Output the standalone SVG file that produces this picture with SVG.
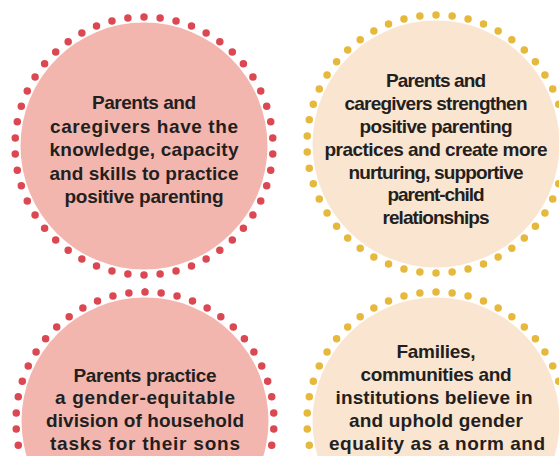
<svg xmlns="http://www.w3.org/2000/svg" width="559" height="456" viewBox="0 0 559 456">
<style>
.bg{fill:#ffffff}
.pink{fill:#F3B6AF}
.peach{fill:#FAE5D1}
.dots{fill:none;stroke-width:7.5;stroke-linecap:round;stroke-dasharray:0 1}
.red{stroke:#DC4852}
.yel{stroke:#E6B83C}
text{font-family:"Liberation Sans",Arial,sans-serif;font-weight:bold;font-size:19px;fill:#231F20;text-anchor:middle}
</style>
<rect class="bg" x="0" y="0" width="559" height="456"/>
<g id="node-knowledge">
<circle class="pink" cx="144" cy="146" r="123.5"/>
<path class="dots red" pathLength="50" d="M144 17 A129 129 0 1 1 144 275 A129 129 0 1 1 144 17"/>
<text x="144" y="109" textLength="104" lengthAdjust="spacing">Parents and</text>
<text x="144" y="132.5" textLength="188" lengthAdjust="spacing">caregivers have the</text>
<text x="144" y="156" textLength="189" lengthAdjust="spacing">knowledge, capacity</text>
<text x="144" y="179.5" textLength="189" lengthAdjust="spacing">and skills to practice</text>
<text x="144" y="203" textLength="159" lengthAdjust="spacing">positive parenting</text>
</g>
<g id="node-practices">
<circle class="peach" cx="436" cy="144" r="123.5"/>
<path class="dots yel" pathLength="50" d="M436 15 A129 129 0 1 1 436 273 A129 129 0 1 1 436 15"/>
<text x="436" y="87" textLength="100" lengthAdjust="spacing">Parents and</text>
<text x="436" y="110" textLength="183" lengthAdjust="spacing">caregivers strengthen</text>
<text x="436" y="133" textLength="153" lengthAdjust="spacing">positive parenting</text>
<text x="436" y="156" textLength="223" lengthAdjust="spacing">practices and create more</text>
<text x="436" y="178.5" textLength="175" lengthAdjust="spacing">nurturing, supportive</text>
<text x="436" y="201" textLength="97" lengthAdjust="spacing">parent-child</text>
<text x="436" y="223.5" textLength="107" lengthAdjust="spacing">relationships</text>
</g>
<g id="node-division">
<circle class="pink" cx="145" cy="421" r="123.5"/>
<path class="dots red" pathLength="50" d="M145 292 A129 129 0 1 1 145 550 A129 129 0 1 1 145 292"/>
<text x="145" y="381.5" textLength="143" lengthAdjust="spacing">Parents practice</text>
<text x="145" y="404" textLength="180" lengthAdjust="spacing">a gender-equitable</text>
<text x="145" y="427" textLength="198" lengthAdjust="spacing">division of household</text>
<text x="145" y="450" textLength="190" lengthAdjust="spacing">tasks for their sons</text>
</g>
<g id="node-norms">
<circle class="peach" cx="436" cy="421" r="123.5"/>
<path class="dots yel" pathLength="50" d="M436 292 A129 129 0 1 1 436 550 A129 129 0 1 1 436 292"/>
<text x="436" y="358" textLength="79" lengthAdjust="spacing">Families,</text>
<text x="436" y="381" textLength="151" lengthAdjust="spacing">communities and</text>
<text x="434" y="404" textLength="197" lengthAdjust="spacing">institutions believe in</text>
<text x="436" y="427" textLength="174" lengthAdjust="spacing">and uphold gender</text>
<text x="437" y="450" textLength="216" lengthAdjust="spacing">equality as a norm and</text>
</g>
<g id="connectors"></g>
</svg>
